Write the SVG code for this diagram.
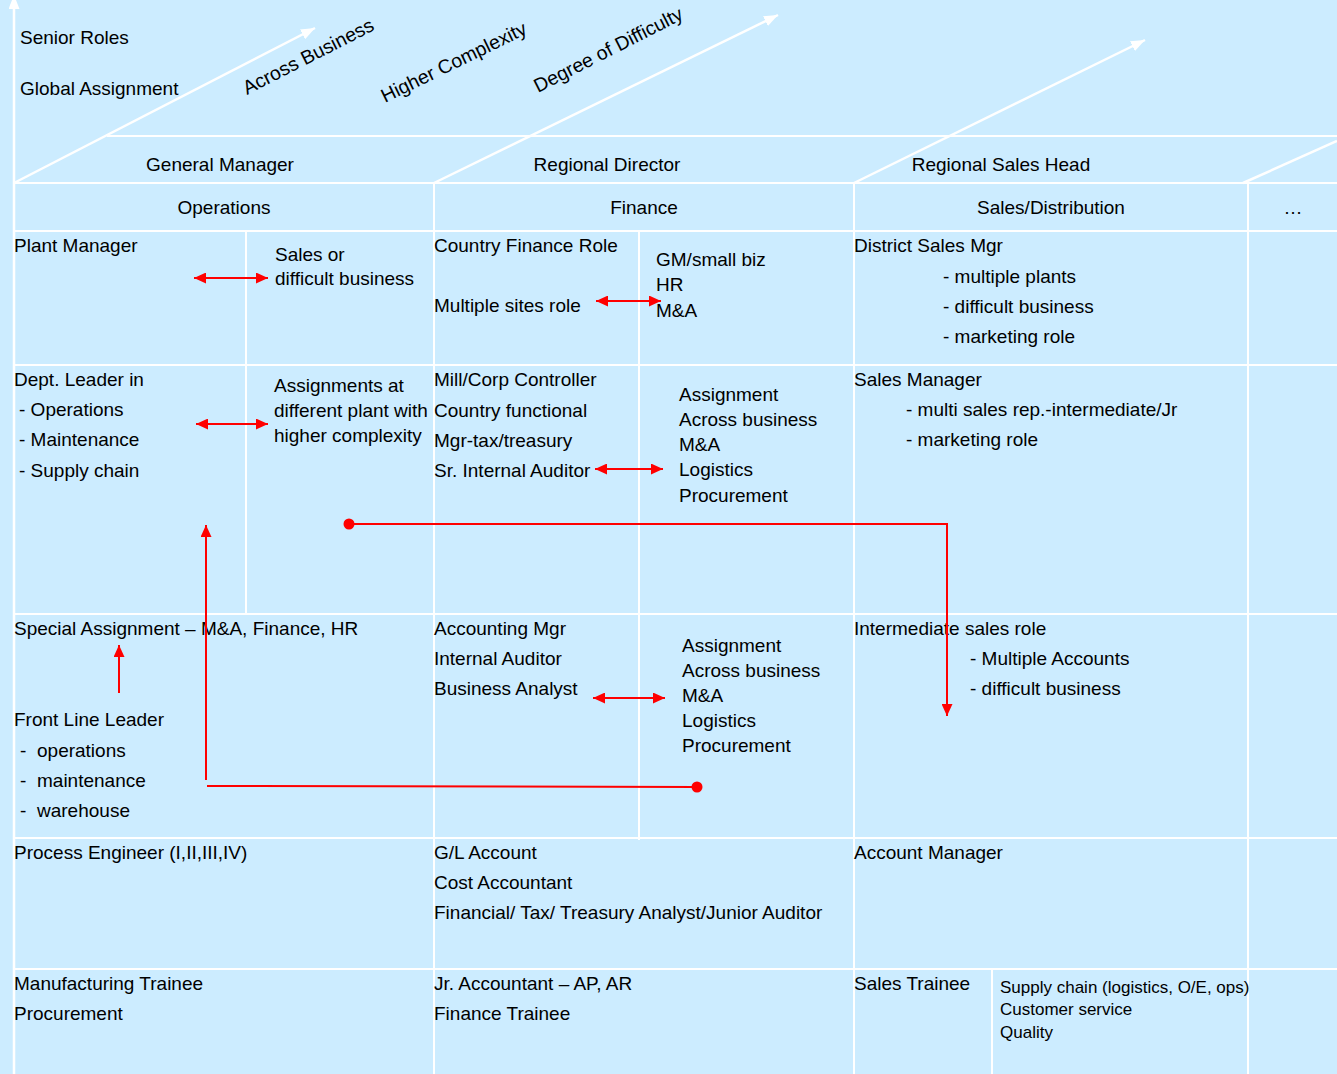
<svg xmlns="http://www.w3.org/2000/svg" width="1337" height="1074" viewBox="0 0 1337 1074">
<style>
text{font-family:"Liberation Sans",Arial,sans-serif;font-size:19px;fill:#000}
.c{text-anchor:middle}
.rot{font-size:19.5px}
.sm{font-size:17px}
.grid line{stroke:#fff;stroke-width:2}
.diag{stroke:#fff;stroke-width:2.5;fill:none}
.red{stroke:#f00;stroke-width:2;fill:none}
</style>
<defs>
<marker id="ra" markerUnits="userSpaceOnUse" markerWidth="12" markerHeight="11" refX="12" refY="5.5" orient="auto-start-reverse"><path d="M0,0 L12,5.5 L0,11 z" fill="#f00"/></marker>
<marker id="wa" markerUnits="userSpaceOnUse" markerWidth="14" markerHeight="11" refX="14" refY="5.5" orient="auto"><path d="M0,0 L14,5.5 L0,11 z" fill="#fff"/></marker>
</defs>
<rect x="0" y="0" width="1337" height="1074" fill="#CCECFF"/>
<g id="grid" class="grid">
<line x1="107" y1="136" x2="1337" y2="136"/>
<line x1="14" y1="183" x2="1337" y2="183"/>
<line x1="14" y1="231" x2="1337" y2="231"/>
<line x1="14" y1="365" x2="1337" y2="365"/>
<line x1="14" y1="614" x2="1337" y2="614"/>
<line x1="14" y1="838" x2="1337" y2="838"/>
<line x1="14" y1="969" x2="1337" y2="969"/>
<line x1="434" y1="183" x2="434" y2="1074"/>
<line x1="854" y1="183" x2="854" y2="1074"/>
<line x1="1248" y1="183" x2="1248" y2="1074"/>
<line x1="246" y1="231" x2="246" y2="614"/>
<line x1="639" y1="231" x2="639" y2="840"/>
<line x1="992" y1="969" x2="992" y2="1074"/>
</g>
<g id="axes">
<line class="diag" x1="14" y1="1074" x2="14" y2="-5" marker-end="url(#wa)"/>
<line class="diag" x1="14" y1="183" x2="315" y2="28" marker-end="url(#wa)"/>
<line class="diag" x1="434" y1="183" x2="778" y2="15" marker-end="url(#wa)"/>
<line class="diag" x1="854" y1="183" x2="1145" y2="40" marker-end="url(#wa)"/>
<line class="diag" x1="1243" y1="183" x2="1337" y2="141"/>
</g>
<g id="axis-labels">
<text x="20" y="44">Senior Roles</text>
<text x="20" y="95">Global Assignment</text>
<text class="rot" transform="translate(247,95) rotate(-27)">Across Business</text>
<text class="rot" transform="translate(385,103) rotate(-26)">Higher Complexity</text>
<text class="rot" transform="translate(538,93) rotate(-27)">Degree of Difficulty</text>
</g>
<g id="heads">
<text class="c" x="220" y="171">General Manager</text>
<text class="c" x="607" y="171">Regional Director</text>
<text class="c" x="1001" y="171">Regional Sales Head</text>
<text class="c" x="224" y="214">Operations</text>
<text class="c" x="644" y="214">Finance</text>
<text class="c" x="1051" y="214">Sales/Distribution</text>
<text class="c" x="1293" y="214">…</text>
</g>
<g id="ops-r1"><text x="14" y="252">Plant Manager</text>
<text x="275" y="261">Sales or</text><text x="275" y="285">difficult business</text></g>
<g id="fin-r1"><text x="434" y="252">Country Finance Role</text><text x="434" y="312">Multiple sites role</text>
<text x="656" y="266">GM/small biz</text><text x="656" y="291">HR</text><text x="656" y="317">M&amp;A</text></g>
<g id="sales-r1"><text x="854" y="252">District Sales Mgr</text>
<text x="943" y="283">- multiple plants</text><text x="943" y="313">- difficult business</text><text x="943" y="343">- marketing role</text></g>
<g id="ops-r2"><text x="14" y="386">Dept. Leader in</text>
<text x="19" y="416">- Operations</text><text x="19" y="446">- Maintenance</text><text x="19" y="477">- Supply chain</text>
<text x="274" y="392">Assignments at</text><text x="274" y="417">different plant with</text><text x="274" y="442">higher complexity</text></g>
<g id="fin-r2"><text x="434" y="386">Mill/Corp Controller</text><text x="434" y="417">Country functional</text><text x="434" y="447">Mgr-tax/treasury</text><text x="434" y="477">Sr. Internal Auditor</text>
<text x="679" y="401">Assignment</text><text x="679" y="426">Across business</text><text x="679" y="451">M&amp;A</text><text x="679" y="476">Logistics</text><text x="679" y="502">Procurement</text></g>
<g id="sales-r2"><text x="854" y="386">Sales Manager</text>
<text x="906" y="416">- multi sales rep.-intermediate/Jr</text><text x="906" y="446">- marketing role</text></g>
<g id="ops-r3"><text x="14" y="635">Special Assignment – M&amp;A, Finance, HR</text>
<text x="14" y="726">Front Line Leader</text>
<text x="20" y="757">-<tspan x="37">operations</tspan></text><text x="20" y="787">-<tspan x="37">maintenance</tspan></text><text x="20" y="817">-<tspan x="37">warehouse</tspan></text></g>
<g id="fin-r3"><text x="434" y="635">Accounting Mgr</text><text x="434" y="665">Internal Auditor</text><text x="434" y="695">Business Analyst</text>
<text x="682" y="652">Assignment</text><text x="682" y="677">Across business</text><text x="682" y="702">M&amp;A</text><text x="682" y="727">Logistics</text><text x="682" y="752">Procurement</text></g>
<g id="sales-r3"><text x="854" y="635">Intermediate sales role</text>
<text x="970" y="665">- Multiple Accounts</text><text x="970" y="695">- difficult business</text></g>
<g id="ops-r4"><text x="14" y="859">Process Engineer (I,II,III,IV)</text></g>
<g id="fin-r4"><text x="434" y="859">G/L Account</text><text x="434" y="889">Cost Accountant</text><text x="434" y="919">Financial/ Tax/ Treasury Analyst/Junior Auditor</text></g>
<g id="sales-r4"><text x="854" y="859">Account Manager</text></g>
<g id="ops-r5"><text x="14" y="990">Manufacturing Trainee</text><text x="14" y="1020">Procurement</text></g>
<g id="fin-r5"><text x="434" y="990">Jr. Accountant – AP, AR</text><text x="434" y="1020">Finance Trainee</text></g>
<g id="sales-r5"><text x="854" y="990">Sales Trainee</text>
<text class="sm" x="1000" y="993">Supply chain (logistics, O/E, ops)</text><text class="sm" x="1000" y="1015">Customer service</text><text class="sm" x="1000" y="1038">Quality</text></g>
<g id="connectors">
<line class="red" x1="194" y1="278" x2="268" y2="278" marker-start="url(#ra)" marker-end="url(#ra)"/>
<line class="red" x1="596" y1="301" x2="661" y2="301" marker-start="url(#ra)" marker-end="url(#ra)"/>
<line class="red" x1="196" y1="424" x2="268" y2="424" marker-start="url(#ra)" marker-end="url(#ra)"/>
<line class="red" x1="595" y1="469" x2="663" y2="469" marker-start="url(#ra)" marker-end="url(#ra)"/>
<line class="red" x1="593" y1="698" x2="665" y2="698" marker-start="url(#ra)" marker-end="url(#ra)"/>
<line class="red" x1="119" y1="693" x2="119" y2="645" marker-end="url(#ra)"/>
<circle cx="349" cy="524" r="5.5" fill="#f00"/>
<path class="red" d="M349,524 H947 V716" marker-end="url(#ra)"/>
<circle cx="697" cy="787" r="5.5" fill="#f00"/>
<line class="red" x1="697" y1="787" x2="207" y2="786"/>
<line class="red" x1="206" y1="780" x2="206" y2="525" marker-end="url(#ra)"/>
</g>
</svg>
